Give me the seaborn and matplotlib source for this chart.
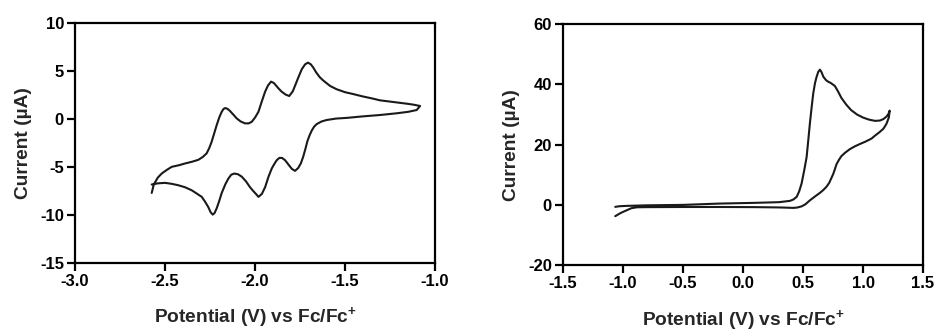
import matplotlib
matplotlib.use("Agg")
import matplotlib.pyplot as plt
import seaborn as sns
import pandas as pd

# Left panel: cyclic voltammogram with three reversible couples
# (scan starts at the tail near -2.57 V, goes anodic, then back)
cv1_potential = [
    -2.574, -2.562, -2.540, -2.518, -2.490, -2.463, -2.420, -2.389, -2.350,
    -2.315, -2.290, -2.269, -2.255, -2.241, -2.227, -2.213, -2.198, -2.185,
    -2.175, -2.165, -2.152, -2.139, -2.120, -2.102, -2.080, -2.056, -2.035,
    -2.018, -2.000, -1.981, -1.963, -1.944, -1.928, -1.911, -1.895, -1.870,
    -1.852, -1.830, -1.810, -1.790, -1.775, -1.758, -1.740, -1.722, -1.706,
    -1.690, -1.676, -1.660, -1.640, -1.620, -1.583, -1.546, -1.500, -1.454,
    -1.400, -1.350, -1.306, -1.250, -1.200, -1.157, -1.120, -1.083,
    -1.102, -1.150, -1.213, -1.306, -1.400, -1.491, -1.550, -1.602, -1.630,
    -1.657, -1.672, -1.685, -1.697, -1.709, -1.720, -1.732, -1.745, -1.760,
    -1.778, -1.795, -1.810, -1.833, -1.850, -1.865, -1.880, -1.895, -1.907,
    -1.925, -1.944, -1.962, -1.981, -1.995, -2.010, -2.028, -2.050, -2.074,
    -2.095, -2.115, -2.132, -2.148, -2.165, -2.185, -2.200, -2.213, -2.225,
    -2.235, -2.247, -2.259, -2.278, -2.296, -2.325, -2.352, -2.390, -2.426,
    -2.463, -2.500, -2.540, -2.574,
]
cv1_current = [
    -7.70, -6.80, -6.10, -5.67, -5.30, -4.98, -4.80, -4.63, -4.45,
    -4.25, -3.95, -3.58, -3.05, -2.37, -1.50, -0.63, 0.20, 0.76,
    1.05, 1.15, 1.05, 0.84, 0.45, 0.07, -0.25, -0.45, -0.45,
    -0.28, 0.15, 0.76, 1.80, 2.85, 3.50, 3.90, 3.75, 3.20,
    2.85, 2.55, 2.40, 2.90, 3.60, 4.40, 5.20, 5.70, 5.88,
    5.70, 5.35, 4.85, 4.35, 4.00, 3.45, 3.10, 2.80, 2.60,
    2.35, 2.15, 1.95, 1.82, 1.70, 1.60, 1.50, 1.36,
    0.94, 0.75, 0.60, 0.42, 0.28, 0.12, 0.05, -0.10, -0.25,
    -0.52, -0.80, -1.20, -1.70, -2.30, -3.10, -3.90, -4.60, -5.10,
    -5.40, -5.20, -4.85, -4.29, -4.05, -4.05, -4.30, -4.75, -5.15,
    -6.00, -7.10, -7.80, -8.11, -7.80, -7.50, -7.10, -6.50, -6.00,
    -5.75, -5.68, -5.80, -6.20, -6.80, -7.70, -8.60, -9.30, -9.80,
    -9.96, -9.70, -9.20, -8.60, -8.11, -7.75, -7.42, -7.10, -6.90,
    -6.75, -6.65, -6.70, -6.82,
]

# Right panel: irreversible oxidation wave
cv2_potential = [
    -1.065, -1.030, -0.968, -0.800, -0.500, -0.191, 0.086, 0.300, 0.391,
    0.420, 0.447, 0.468, 0.488, 0.510, 0.530, 0.545, 0.557, 0.572, 0.585,
    0.600, 0.613, 0.627, 0.641, 0.655, 0.670, 0.690, 0.705, 0.730, 0.765,
    0.790, 0.820, 0.860, 0.900, 0.950, 1.000, 1.050, 1.100, 1.140, 1.170,
    1.195, 1.212, 1.222,
    1.215, 1.195, 1.170, 1.139, 1.100, 1.070, 1.020, 0.973, 0.930, 0.890,
    0.850, 0.820, 0.800, 0.779, 0.765, 0.751, 0.735, 0.718, 0.695, 0.668,
    0.641, 0.600, 0.557, 0.520, 0.488, 0.450, 0.419, 0.300, 0.100, -0.200,
    -0.500, -0.800, -0.884, -0.930, -0.968, -1.020, -1.065,
]
cv2_current = [
    -0.66, -0.45, -0.33, -0.15, 0.00, 0.44, 0.66, 0.90, 1.33,
    1.80, 2.66, 4.50, 7.10, 11.5, 15.9, 22.0, 27.0, 32.5, 37.0,
    40.5, 42.5, 44.2, 44.9, 44.0, 42.5, 41.5, 41.0, 40.5, 39.5,
    37.8, 35.5, 33.3, 31.5, 30.0, 29.0, 28.3, 27.9, 28.0, 28.5,
    29.3, 30.2, 31.3,
    29.0, 26.9, 25.3, 24.2, 23.0, 22.0, 21.0, 20.2, 19.4, 18.5,
    17.3, 16.2, 15.0, 13.5, 11.8, 10.2, 8.8, 7.3, 6.0, 4.9,
    4.0, 2.8, 1.5, 0.2, -0.5, -0.9, -1.0, -0.85, -0.75, -0.70,
    -0.70, -0.75, -0.80, -1.10, -1.76, -2.70, -3.75,
]

left_xticks = [-3.0, -2.5, -2.0, -1.5, -1.0]
left_yticks = [-15, -10, -5, 0, 5, 10]
right_xticks = [-1.5, -1.0, -0.5, 0.0, 0.5, 1.0, 1.5]
right_yticks = [-20, 0, 20, 40, 60]

sns.set_style("ticks")
plt.rcParams["font.family"] = ["Liberation Sans", "DejaVu Sans"]
plt.rcParams["font.weight"] = "bold"
plt.rcParams["mathtext.fontset"] = "custom"
plt.rcParams["mathtext.rm"] = "Liberation Sans"
plt.rcParams["mathtext.bf"] = "Liberation Sans:bold"

df1 = pd.DataFrame({"E": cv1_potential, "I": cv1_current})
df2 = pd.DataFrame({"E": cv2_potential, "I": cv2_current})

fig = plt.figure(figsize=(9.39, 3.36), dpi=100)
ax1 = fig.add_axes([0.0799, 0.2173, 0.3834, 0.714])
ax2 = fig.add_axes([0.5996, 0.211, 0.3834, 0.717])

line_kw = dict(sort=False, estimator=None, color="#1a1a1a", linewidth=1.5)
sns.lineplot(data=df1, x="E", y="I", ax=ax1, **line_kw)
sns.lineplot(data=df2, x="E", y="I", ax=ax2, **line_kw)

panels = [
    (ax1, left_xticks, left_yticks, (-3.0, -1.0), (-15, 10)),
    (ax2, right_xticks, right_yticks, (-1.5, 1.5), (-20, 60)),
]
for ax, xt, yt, xl, yl in panels:
    ax.set_xlim(*xl)
    ax.set_ylim(*yl)
    ax.set_xticks(xt)
    ax.set_yticks(yt)
    ax.set_xticklabels([f"{v:.1f}" for v in xt])
    ax.set_yticklabels([f"{v:d}" for v in yt])
    for s in ax.spines.values():
        s.set_visible(True)
        s.set_linewidth(1.6)
        s.set_color("black")
    ax.tick_params(direction="out", length=6, width=1.6, labelsize=12,
                   colors="black", pad=2)
    for lab in ax.get_xticklabels() + ax.get_yticklabels():
        lab.set_fontweight("bold")
    ax.set_xlabel(r"Potential (V) vs Fc/Fc$^{\mathbf{+}}$", fontsize=13.8,
                  fontweight="bold", labelpad=12)
    ax.set_ylabel("Current (µA)", fontsize=13.8, fontweight="bold", labelpad=6)

fig.savefig("out.png", dpi=100)
